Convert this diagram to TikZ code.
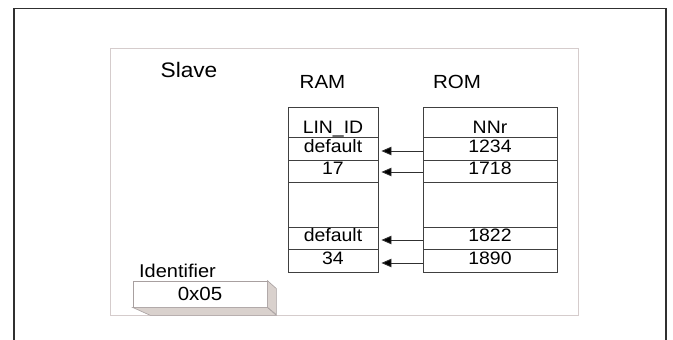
\documentclass[tikz,border=0pt]{standalone}
\usepackage{fontspec}
\setmainfont{Liberation Sans}[FakeStretch=1.08]
\usetikzlibrary{arrows.meta}
\definecolor{frameline}{HTML}{303030}
\definecolor{innerline}{HTML}{D5CCCC}
\definecolor{tabline}{HTML}{404040}
\definecolor{arrowcol}{HTML}{303030}
\definecolor{boxface}{HTML}{D9D1CD}
\definecolor{boxline}{HTML}{A8A0A0}
\begin{document}
\begin{tikzpicture}[x=1pt,y=-1pt,
  cell/.style={draw=tabline, line width=0.9pt, fill=white, inner sep=0pt,
    minimum height=#1, text height=0.72em, text depth=0pt,
    font=\fontsize{18}{18}\selectfont},
  ramcell/.style={cell=#1, minimum width=90pt},
  romcell/.style={cell=#1, minimum width=134pt},
  celltext/.style={inner sep=0pt, anchor=base, font=\fontsize{18}{18}\selectfont},
  title/.style={inner sep=0pt, anchor=base, font=\fontsize{19}{19}\selectfont},
  arrowline/.style={draw=arrowcol, line width=0.9pt, shorten >=3pt,
    -{Triangle[length=10pt,width=8.5pt,fill=black]}},
  idbox/.style={draw=boxline, line width=0.8pt, fill=white, inner sep=0pt,
    minimum width=134pt, minimum height=26pt, font=\fontsize{19}{19}\selectfont},
  face/.style={draw=boxline, line width=0.6pt, fill=boxface}
]
\useasboundingbox (0,0) rectangle (673,340);
% outer frame (open at bottom)
\draw[frameline, line width=1.5pt] (14,340) -- (14,8.5) -- (666,8.5) -- (666,340);
% inner frame
\draw[innerline, line width=0.8pt] (110.5,48.5) rectangle (578,315);

\node[title, font=\fontsize{21}{21}\selectfont] (slave) at (189,77) {Slave};
\node[title] (ramt) at (322.5,88) {RAM};
\node[title] (romt) at (457,88) {ROM};

% RAM table
\node[ramcell=30] (ram1) at (333,122) {};
\node[ramcell=23] (ram2) at (333,148.5) {default};
\node[ramcell=22] (ram3) at (333,171) {17};
\node[ramcell=45] (ram4) at (333,204.5) {};
\node[ramcell=22] (ram5) at (333,238) {default};
\node[ramcell=23] (ram6) at (333,260.5) {34};
\node[celltext] (ramh) at (333,133) {LIN\_ID};

% ROM table
\node[romcell=30] (rom1) at (490,122) {};
\node[romcell=23] (rom2) at (490,148.5) {1234};
\node[romcell=22] (rom3) at (490,171) {1718};
\node[romcell=45] (rom4) at (490,204.5) {};
\node[romcell=22] (rom5) at (490,238) {1822};
\node[romcell=23] (rom6) at (490,260.5) {1890};
\node[celltext] (romh) at (490,133) {NNr};

% arrows
\draw[arrowline] ([yshift=-2.5pt]rom2.west) -- ([yshift=-2.5pt]ram2.east);
\draw[arrowline] ([yshift=-1pt]rom3.west) -- ([yshift=-1pt]ram3.east);
\draw[arrowline] ([yshift=-2pt]rom5.west) -- ([yshift=-2pt]ram5.east);
\draw[arrowline] ([yshift=-2.5pt]rom6.west) -- ([yshift=-2.5pt]ram6.east);

% identifier box
\node[title, font=\fontsize{18.5}{18.5}\selectfont] (idt) at (177.5,277) {Identifier};
\node[idbox] (idb) at (200,294) {0x05};
\draw[face] (idb.north east) -- ++(9,8) -- ++(0,26) -- (idb.south east) -- cycle;
\draw[face] (idb.south west) -- (idb.south east) -- ++(9,8) -- ++(-126,0) -- cycle;
\end{tikzpicture}
\end{document}
